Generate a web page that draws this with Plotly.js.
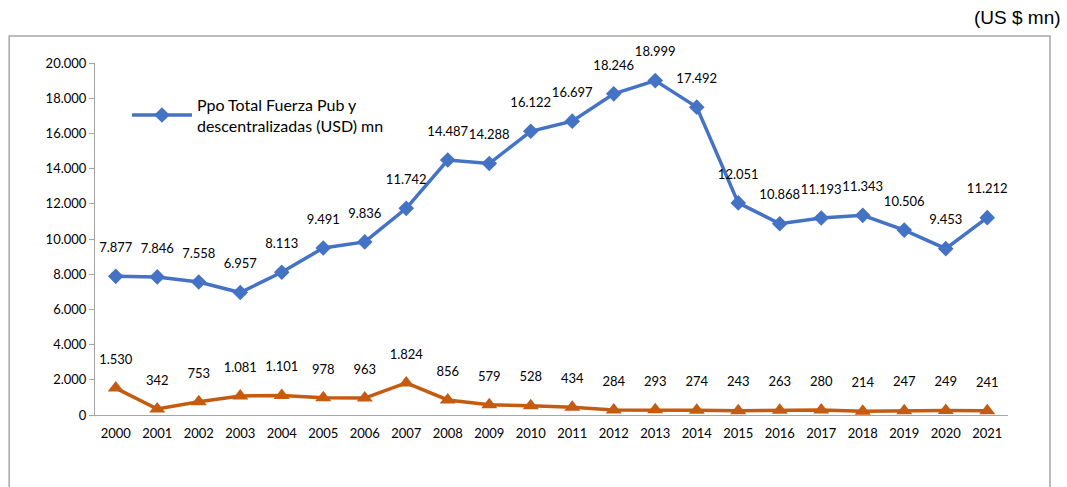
<!DOCTYPE html>
<html>
<head>
<meta charset="utf-8">
<script src="https://cdn.plot.ly/plotly-3.0.1.min.js"></script>
<style>
  html, body { margin: 0; padding: 0; background: #fff; }
  #chart { width: 1067px; height: 487px; }
</style>
</head>
<body>
<div id="chart"></div>
<script>
var years = ['2000', '2001', '2002', '2003', '2004', '2005', '2006', '2007', '2008', '2009', '2010',
             '2011', '2012', '2013', '2014', '2015', '2016', '2017', '2018', '2019', '2020', '2021'];

var totalFuerza = [7877, 7846, 7558, 6957, 8113, 9491, 9836, 11742, 14487, 14288, 16122,
                   16697, 18246, 18999, 17492, 12051, 10868, 11193, 11343, 10506, 9453, 11212];

var otraSerie = [1530, 342, 753, 1081, 1101, 978, 963, 1824, 856, 579, 528,
                 434, 284, 293, 274, 243, 263, 280, 214, 247, 249, 241];

var yTicks = [0, 2000, 4000, 6000, 8000, 10000, 12000, 14000, 16000, 18000, 20000];

var labelFont = { family: 'Lato, "Noto Sans", sans-serif', size: 13, color: '#000' };

// the lines and markers
var trace1 = {
  x: years,
  y: totalFuerza,
  name: 'Ppo Total Fuerza Pub y<br>descentralizadas (USD) mn',
  type: 'scatter',
  mode: 'lines+markers',
  line: { color: '#4472C4', width: 3.5 },
  marker: { symbol: 'diamond', size: 12, color: '#4472C4' }
};

var trace2 = {
  x: years,
  y: otraSerie,
  name: 'serie 2',
  showlegend: false,
  type: 'scatter',
  mode: 'lines+markers',
  line: { color: '#C55A11', width: 3.5 },
  marker: { symbol: 'triangle-up', size: 14, color: '#C55A11' }
};

// data labels: a big invisible marker pushes the text up from the point
var labelTrace = function(values){
  return {
    x: years,
    y: values,
    showlegend: false,
    type: 'scatter',
    mode: 'markers+text',
    marker: { size: 32, opacity: 0 },
    texttemplate: '%{y:,.0f}',
    textposition: 'top center',
    textfont: labelFont,
    cliponaxis: false,
    hoverinfo: 'skip'
  };
};

var layout = {
  width: 1067,
  height: 487,
  margin: { l: 95, r: 59, t: 63, b: 72 },
  paper_bgcolor: '#fff',
  plot_bgcolor: '#fff',
  separators: ',.',
  font: { family: 'Lato, "Noto Sans", sans-serif', size: 13, color: '#000' },
  showlegend: true,
  legend: {
    x: 0.035, y: 0.93, xanchor: 'left', yanchor: 'top',
    bgcolor: 'rgba(0,0,0,0)',
    font: { family: 'Lato, "Noto Sans", sans-serif', size: 16, color: '#000' },
    itemwidth: 60
  },
  xaxis: {
    type: 'category',
    range: [-0.5, 21.5],
    showgrid: false,
    zeroline: false,
    showline: true,
    linecolor: '#a6a6a6',
    linewidth: 1,
    ticks: '',
    ticklabelstandoff: 6,
    tickfont: { size: 13 }
  },
  yaxis: {
    range: [0, 20000],
    tickvals: yTicks,
    tickformat: ',.0f',
    showgrid: false,
    zeroline: false,
    showline: true,
    linecolor: '#a6a6a6',
    linewidth: 1,
    ticks: 'outside',
    ticklen: 5,
    tickcolor: '#a6a6a6',
    tickfont: { size: 13 }
  },
  shapes: [{
    type: 'rect', xref: 'paper', yref: 'paper',
    x0: -0.094, x1: 1.046, y0: -0.4, y1: 1.077,
    line: { color: '#a6a6a6', width: 1.5 },
    fillcolor: 'rgba(0,0,0,0)',
    layer: 'below'
  }],
  annotations: [{
    xref: 'paper', yref: 'paper',
    x: 1.06, y: 1.095, xanchor: 'right', yanchor: 'bottom',
    text: '(US $ mn)', showarrow: false,
    font: { family: '"Liberation Sans", Arial, sans-serif', size: 19, color: '#000' }
  }]
};

var data = [trace1, trace2, labelTrace(totalFuerza), labelTrace(otraSerie)];

Plotly.newPlot('chart', data, layout, { displayModeBar: false, staticPlot: true });
</script>
</body>
</html>
